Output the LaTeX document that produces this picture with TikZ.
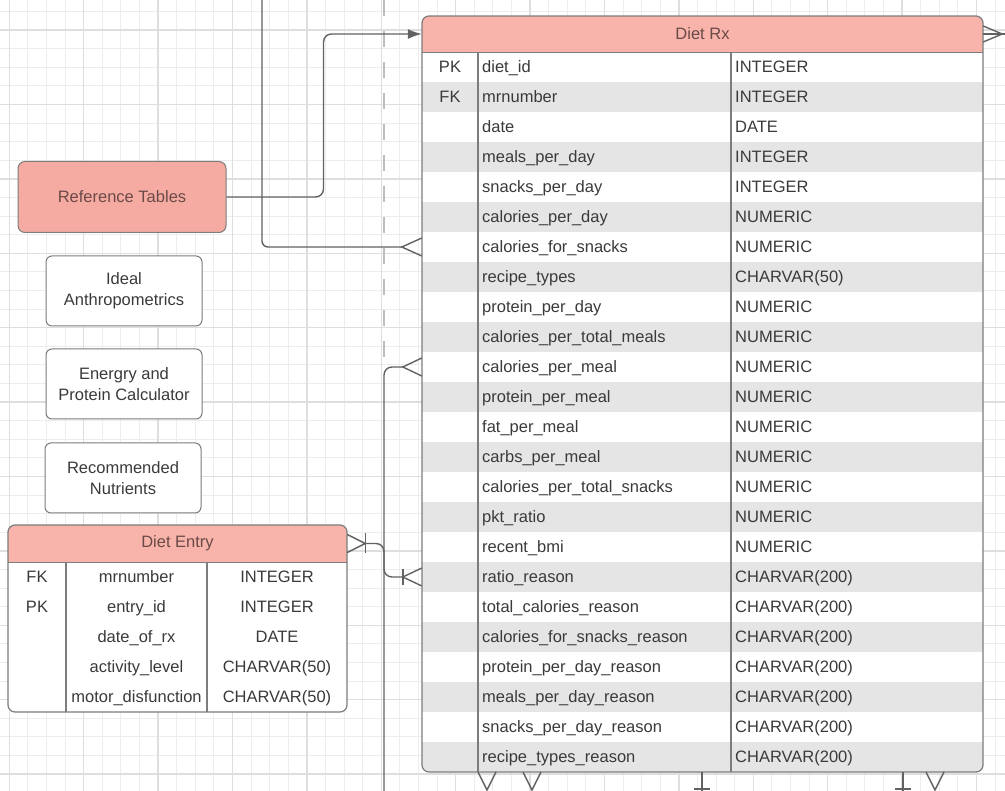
\documentclass[tikz,border=0pt]{standalone}
\usepackage{fontspec}
\setmainfont{Liberation Sans}
\usepackage{tikz}
\usetikzlibrary{arrows.meta}

\definecolor{headpink}{HTML}{F8B4AB}
\definecolor{refpink}{HTML}{F6ABA2}
\definecolor{headtext}{HTML}{6A4A47}
\definecolor{rowgray}{HTML}{E5E5E5}
\definecolor{gridminor}{HTML}{EDEDED}
\definecolor{gridmajor}{HTML}{DEDEDE}
\definecolor{edgegray}{HTML}{7C7C7C}
\definecolor{linegray}{HTML}{626262}
\definecolor{dashgray}{HTML}{BDBDBD}
\definecolor{textgray}{HTML}{3A3A3A}

\begin{document}
\begin{tikzpicture}[x=1pt, y=-1pt, font=\fontsize{16.5pt}{21pt}\selectfont,
	conn/.style={draw=linegray, line width=1.4pt},
	dashline/.style={draw=dashgray, line width=2pt, dash pattern=on 16pt off 15pt},
	tableedge/.style={draw=edgegray, line width=1.2pt},
	refbox/.style={draw=edgegray, fill=refpink, rounded corners=7pt, line width=1pt,
		minimum width=208pt, minimum height=71pt, text=headtext},
	calcbox/.style={draw=edgegray, fill=white, rounded corners=6pt, line width=1pt,
		minimum width=156pt, minimum height=70pt, align=center, text=textgray},
	headbox/.style={fill=headpink, minimum height=36pt, inner sep=0pt, text=headtext},
	rowbox/.style={minimum height=30pt, inner sep=0pt},
	celltext/.style={inner sep=0pt, text height=13pt, text depth=1.2pt, text=textgray}]

% canvas
	\useasboundingbox[fill=white] (0,0) rectangle (1005,791);

% draw grid lines
	\foreach \k in {0,...,53}
		\draw[gridminor, line width=1.1pt] ({9.3+18.6*\k},0) -- ({9.3+18.6*\k},791);
	\foreach \k in {0,...,42}
		\draw[gridminor, line width=1.1pt] (0,{11.5+18.6*\k}) -- (1005,{11.5+18.6*\k});
	\foreach \k in {0,4,...,52}
		\draw[gridmajor, line width=1.5pt] ({9.3+18.6*\k},0) -- ({9.3+18.6*\k},791);
	\foreach \k in {1,5,...,41}
		\draw[gridmajor, line width=1.5pt] (0,{11.5+18.6*\k}) -- (1005,{11.5+18.6*\k});

% reference boxes
	\node[refbox] (reftables) at (122,197) {Reference Tables};
	\node[calcbox] (ideal) at (124,291) {Ideal\\Anthropometrics};
	\node[calcbox] (energy) at (124,384) {Energry and\\Protein Calculator};
	\node[calcbox] (nutrients) at (123,478) {Recommended\\Nutrients};

% Diet Rx table
	\fill[white, rounded corners=7pt] (422,16) rectangle (983,772);
	\begin{scope}
	\clip[rounded corners=7pt] (422,16) rectangle (983,772);
	\node[headbox, minimum width=561pt] (rxhead) at (702.5,34) {Diet Rx};
	\foreach \name/\type/\key [count=\i, evaluate=\i as \ry using 37+30*\i] in {
		diet\_id/INTEGER/PK, mrnumber/INTEGER/FK, date/DATE/{},
		meals\_per\_day/INTEGER/{}, snacks\_per\_day/INTEGER/{},
		calories\_per\_day/NUMERIC/{}, calories\_for\_snacks/NUMERIC/{},
		recipe\_types/CHARVAR(50)/{}, protein\_per\_day/NUMERIC/{},
		calories\_per\_total\_meals/NUMERIC/{}, calories\_per\_meal/NUMERIC/{},
		protein\_per\_meal/NUMERIC/{}, fat\_per\_meal/NUMERIC/{},
		carbs\_per\_meal/NUMERIC/{}, calories\_per\_total\_snacks/NUMERIC/{},
		pkt\_ratio/NUMERIC/{}, recent\_bmi/NUMERIC/{},
		ratio\_reason/CHARVAR(200)/{}, total\_calories\_reason/CHARVAR(200)/{},
		calories\_for\_snacks\_reason/CHARVAR(200)/{},
		protein\_per\_day\_reason/CHARVAR(200)/{},
		meals\_per\_day\_reason/CHARVAR(200)/{},
		snacks\_per\_day\_reason/CHARVAR(200)/{},
		recipe\_types\_reason/CHARVAR(200)/{}} {
		\ifodd\i \def\rowfill{white}\else \def\rowfill{rowgray}\fi
		\node[rowbox, minimum width=561pt, fill=\rowfill] (rx\i) at (702.5,\ry) {};
		\node[celltext] (rxkey\i) at (450,\ry) {\key};
		\node[celltext, anchor=west] (rxname\i) at (482,\ry) {\name};
		\node[celltext, anchor=west] (rxtype\i) at (735,\ry) {\type};
	}
	\end{scope}
	\draw[tableedge, rounded corners=7pt] (422,16) rectangle (983,772);
	\draw[tableedge] (rxhead.south west) -- (rxhead.south east);
	\draw[tableedge] (478,52) -- (478,772);
	\draw[tableedge] (731,52) -- (731,772);

% Diet Entry table
	\fill[white, rounded corners=7pt] (8,525) rectangle (347,712);
	\begin{scope}
	\clip[rounded corners=7pt] (8,525) rectangle (347,712);
	\node[headbox, minimum width=339pt, minimum height=37pt] (entryhead) at (177.5,543.5) {Diet Entry};
	\foreach \name/\type/\key [count=\i, evaluate=\i as \ry using 547+30*\i] in {
		mrnumber/INTEGER/FK, entry\_id/INTEGER/PK, date\_of\_rx/DATE/{},
		activity\_level/CHARVAR(50)/{}, motor\_disfunction/CHARVAR(50)/{}} {
		\node[rowbox, minimum width=339pt] (entry\i) at (177.5,\ry) {};
		\node[celltext] (entrykey\i) at (37,\ry) {\key};
		\node[celltext] (entryname\i) at (136.5,\ry) {\name};
		\node[celltext] (entrytype\i) at (277,\ry) {\type};
	}
	\end{scope}
	\draw[tableedge, rounded corners=7pt] (8,525) rectangle (347,712);
	\draw[tableedge] (entryhead.south west) -- (entryhead.south east);
	\draw[tableedge] (66,562) -- (66,712);
	\draw[tableedge] (207,562) -- (207,712);

% free ends
	\coordinate (topa) at (262,0);
	\coordinate (dasha) at (384,0);
	\coordinate (dashb) at (384,358);
	\coordinate (botb) at (384,791);
	\coordinate (bend) at (384,560);
	\coordinate (foota) at (487,772);
	\coordinate (footb) at (532,772);
	\coordinate (footc) at (935,772);
	\coordinate (bara) at (702,772);
	\coordinate (barb) at (903,772);

% connectors
	\draw[dashline] (dasha) -- (dashb);
	\draw[conn, rounded corners=8pt, -{Latex[length=14pt, width=10pt]}]
		(reftables.east) -- ++(97,0) |- (rxhead.west);
	\draw[conn, rounded corners=6pt] (topa) |- ([xshift=-20pt]rx7.west);
	\draw[conn] (rx7.west) ++(0,-9) -- ++(-20,9) -- ++(20,9);
	\draw[conn, rounded corners=8pt] ([xshift=-19pt]rx11.west) -| (botb);
	\draw[conn] (rx11.west) ++(0,-9) -- ++(-19,9) -- ++(19,9);
	\draw[conn, rounded corners=8pt] ([xshift=18pt]entryhead.east) -| (bend) |- ([xshift=-19pt]rx18.west);
	\draw[conn] (entryhead.east) ++(0,-9) -- ++(18,9) -- ++(-18,9);
	\draw[conn] ([xshift=18pt]entryhead.east) ++(0,-10) -- ++(0,20);
	\draw[conn] (rx18.west) ++(0,-9) -- ++(-19,9) -- ++(19,9);
	\draw[conn] ([xshift=-19pt]rx18.west) ++(0,-8) -- ++(0,16);
	\draw[conn] (rxhead.east) -- ++(22,0);
	\draw[conn] (rxhead.east) ++(0,-8) -- ++(19,8) -- ++(-19,8);
	\draw[conn] (foota) ++(-9,0) -- ++(9,18) -- ++(9,-18);
	\draw[conn] (footb) ++(-9,0) -- ++(9,18) -- ++(9,-18);
	\draw[conn] (footc) ++(-9,0) -- ++(9,18) -- ++(9,-18);
	\draw[conn] (bara) -- ++(0,19);
	\draw[conn] (bara) ++(-8,17) -- ++(16,0);
	\draw[conn] (barb) -- ++(0,19);
	\draw[conn] (barb) ++(-8,17) -- ++(16,0);

\end{tikzpicture}
\end{document}
